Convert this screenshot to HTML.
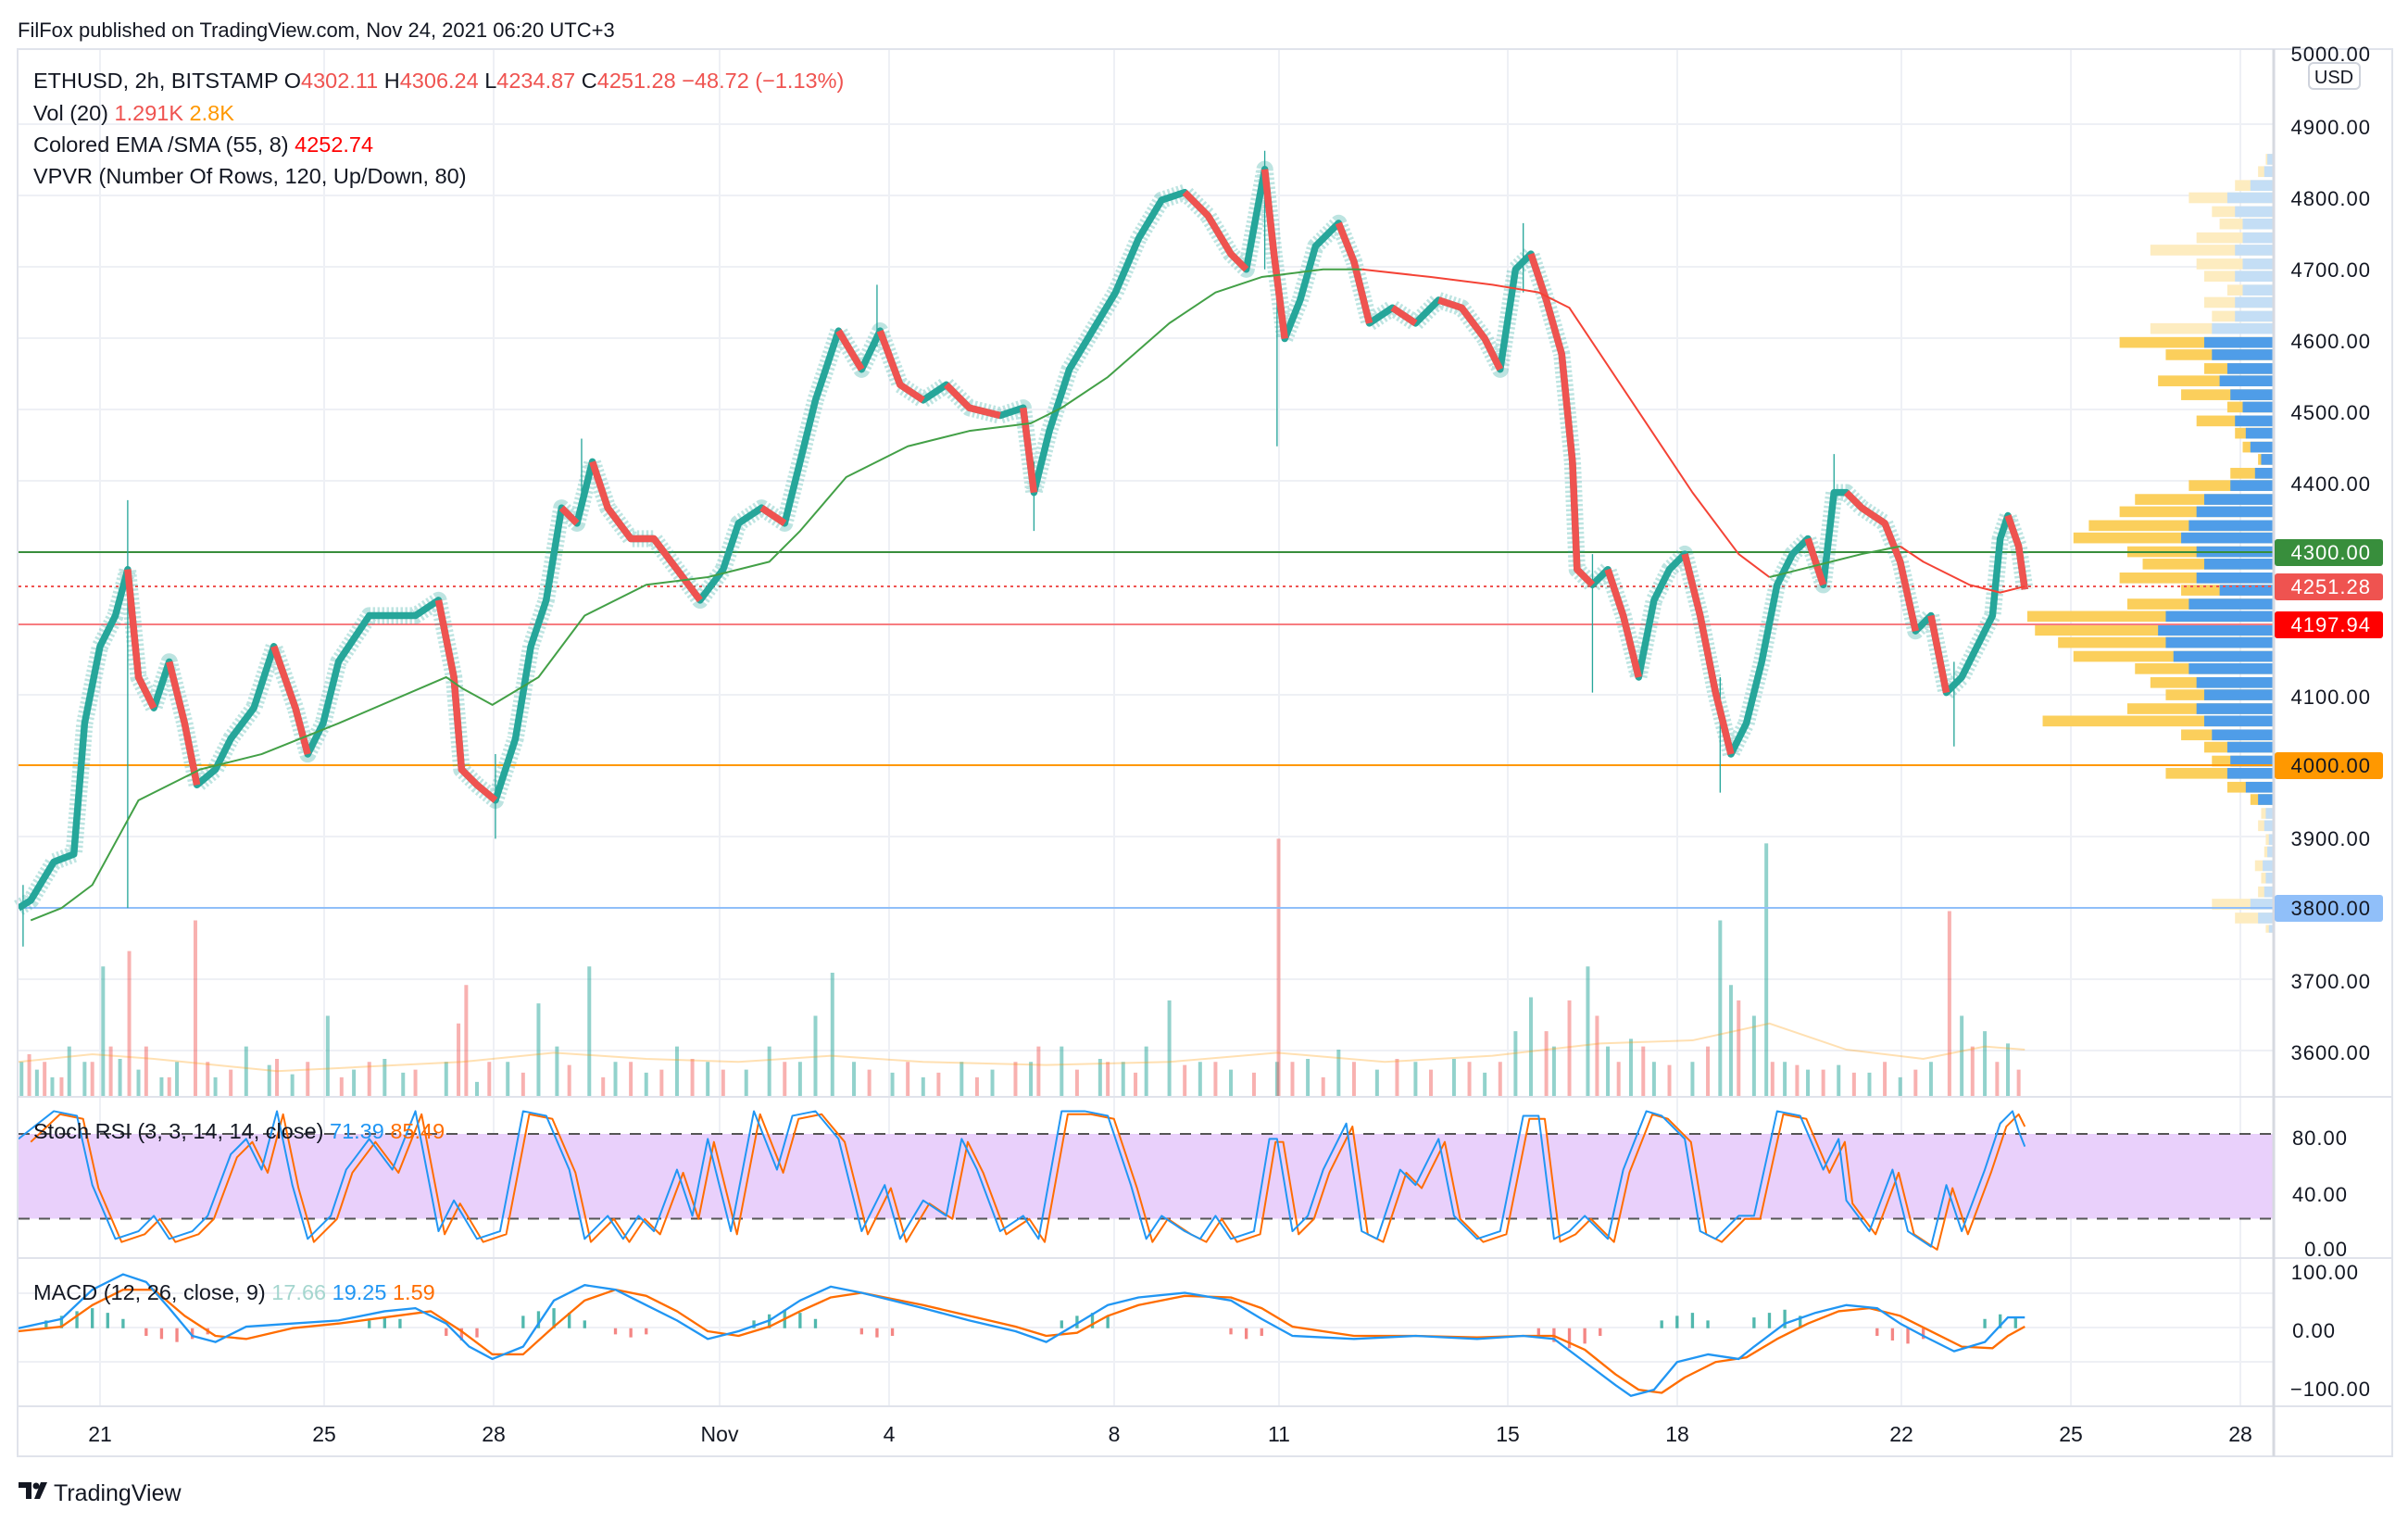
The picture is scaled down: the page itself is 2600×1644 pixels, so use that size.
<!DOCTYPE html>
<html><head><meta charset="utf-8"><style>
html,body{margin:0;padding:0;background:#fff;}
svg{display:block;font-family:"Liberation Sans",sans-serif;}
</style></head><body>
<svg width="2600" height="1644" viewBox="0 0 2600 1644" xmlns="http://www.w3.org/2000/svg">
<rect width="2600" height="1644" fill="#fff"/>
<g stroke="#eef0f5" stroke-width="2">
<line x1="20" x2="2455" y1="134" y2="134"/><line x1="20" x2="2455" y1="211" y2="211"/><line x1="20" x2="2455" y1="288" y2="288"/><line x1="20" x2="2455" y1="365" y2="365"/><line x1="20" x2="2455" y1="442" y2="442"/><line x1="20" x2="2455" y1="519" y2="519"/><line x1="20" x2="2455" y1="750" y2="750"/><line x1="20" x2="2455" y1="903" y2="903"/><line x1="20" x2="2455" y1="1057" y2="1057"/><line x1="20" x2="2455" y1="1134" y2="1134"/>
<line x1="20" x2="2455" y1="1285" y2="1285"/><line x1="20" x2="2455" y1="1396" y2="1396"/><line x1="20" x2="2455" y1="1433" y2="1433"/><line x1="20" x2="2455" y1="1470" y2="1470"/>
<line x1="108" x2="108" y1="54" y2="1518"/><line x1="350" x2="350" y1="54" y2="1518"/><line x1="533" x2="533" y1="54" y2="1518"/><line x1="777" x2="777" y1="54" y2="1518"/><line x1="960" x2="960" y1="54" y2="1518"/><line x1="1203" x2="1203" y1="54" y2="1518"/><line x1="1381" x2="1381" y1="54" y2="1518"/><line x1="1628" x2="1628" y1="54" y2="1518"/><line x1="1811" x2="1811" y1="54" y2="1518"/><line x1="2053" x2="2053" y1="54" y2="1518"/><line x1="2236" x2="2236" y1="54" y2="1518"/><line x1="2419" x2="2419" y1="54" y2="1518"/>
</g>
<rect x="20" y="1224" width="2435" height="91.5" fill="#e9d0fb"/>
<line x1="20" x2="2455" y1="1224" y2="1224" stroke="#555" stroke-width="2" stroke-dasharray="12,10"/>
<line x1="20" x2="2455" y1="1315.5" y2="1315.5" stroke="#555" stroke-width="2" stroke-dasharray="12,10"/>

<g transform="scale(1.6613)">
<g>
<rect x="1472.6" y="100" width="5" height="7" fill="#fdecc0"/><rect x="1473.6" y="100" width="4" height="7" fill="#c4def5"/>
<rect x="1467.6" y="108" width="10" height="7" fill="#fdecc0"/><rect x="1471.6" y="108" width="6" height="7" fill="#c4def5"/>
<rect x="1452.6" y="117" width="25" height="7" fill="#fdecc0"/><rect x="1462.6" y="117" width="15" height="7" fill="#c4def5"/>
<rect x="1422.6" y="125" width="55" height="7" fill="#fdecc0"/><rect x="1447.6" y="125" width="30" height="7" fill="#c4def5"/>
<rect x="1437.6" y="134" width="40" height="7" fill="#fdecc0"/><rect x="1452.6" y="134" width="25" height="7" fill="#c4def5"/>
<rect x="1442.6" y="142" width="35" height="7" fill="#fdecc0"/><rect x="1457.6" y="142" width="20" height="7" fill="#c4def5"/>
<rect x="1427.6" y="151" width="50" height="7" fill="#fdecc0"/><rect x="1457.6" y="151" width="20" height="7" fill="#c4def5"/>
<rect x="1397.6" y="159" width="80" height="7" fill="#fdecc0"/><rect x="1452.6" y="159" width="25" height="7" fill="#c4def5"/>
<rect x="1427.6" y="168" width="50" height="7" fill="#fdecc0"/><rect x="1457.6" y="168" width="20" height="7" fill="#c4def5"/>
<rect x="1432.6" y="176" width="45" height="7" fill="#fdecc0"/><rect x="1452.6" y="176" width="25" height="7" fill="#c4def5"/>
<rect x="1447.6" y="185" width="30" height="7" fill="#fdecc0"/><rect x="1457.6" y="185" width="20" height="7" fill="#c4def5"/>
<rect x="1432.6" y="193" width="45" height="7" fill="#fdecc0"/><rect x="1452.6" y="193" width="25" height="7" fill="#c4def5"/>
<rect x="1437.6" y="202" width="40" height="7" fill="#fdecc0"/><rect x="1452.6" y="202" width="25" height="7" fill="#c4def5"/>
<rect x="1397.6" y="210" width="80" height="7" fill="#fdecc0"/><rect x="1437.6" y="210" width="40" height="7" fill="#c4def5"/>
<rect x="1377.6" y="219" width="100" height="7" fill="#fbcf5c"/><rect x="1432.6" y="219" width="45" height="7" fill="#4f9de8"/>
<rect x="1407.6" y="227" width="70" height="7" fill="#fbcf5c"/><rect x="1437.6" y="227" width="40" height="7" fill="#4f9de8"/>
<rect x="1432.6" y="236" width="45" height="7" fill="#fbcf5c"/><rect x="1447.6" y="236" width="30" height="7" fill="#4f9de8"/>
<rect x="1402.6" y="244" width="75" height="7" fill="#fbcf5c"/><rect x="1442.6" y="244" width="35" height="7" fill="#4f9de8"/>
<rect x="1417.6" y="253" width="60" height="7" fill="#fbcf5c"/><rect x="1449.6" y="253" width="28" height="7" fill="#4f9de8"/>
<rect x="1447.6" y="261" width="30" height="7" fill="#fbcf5c"/><rect x="1457.6" y="261" width="20" height="7" fill="#4f9de8"/>
<rect x="1427.6" y="270" width="50" height="7" fill="#fbcf5c"/><rect x="1452.6" y="270" width="25" height="7" fill="#4f9de8"/>
<rect x="1452.6" y="278" width="25" height="7" fill="#fbcf5c"/><rect x="1459.6" y="278" width="18" height="7" fill="#4f9de8"/>
<rect x="1457.6" y="287" width="20" height="7" fill="#fbcf5c"/><rect x="1462.6" y="287" width="15" height="7" fill="#4f9de8"/>
<rect x="1467.6" y="295" width="10" height="7" fill="#fbcf5c"/><rect x="1469.6" y="295" width="8" height="7" fill="#4f9de8"/>
<rect x="1449.6" y="304" width="28" height="7" fill="#fbcf5c"/><rect x="1465.6" y="304" width="12" height="7" fill="#4f9de8"/>
<rect x="1422.6" y="312" width="55" height="7" fill="#fbcf5c"/><rect x="1449.6" y="312" width="28" height="7" fill="#4f9de8"/>
<rect x="1387.6" y="321" width="90" height="7" fill="#fbcf5c"/><rect x="1432.6" y="321" width="45" height="7" fill="#4f9de8"/>
<rect x="1377.6" y="329" width="100" height="7" fill="#fbcf5c"/><rect x="1427.6" y="329" width="50" height="7" fill="#4f9de8"/>
<rect x="1357.6" y="338" width="120" height="7" fill="#fbcf5c"/><rect x="1422.6" y="338" width="55" height="7" fill="#4f9de8"/>
<rect x="1347.6" y="346" width="130" height="7" fill="#fbcf5c"/><rect x="1417.6" y="346" width="60" height="7" fill="#4f9de8"/>
<rect x="1382.6" y="355" width="95" height="7" fill="#fbcf5c"/><rect x="1427.6" y="355" width="50" height="7" fill="#4f9de8"/>
<rect x="1392.6" y="363" width="85" height="7" fill="#fbcf5c"/><rect x="1432.6" y="363" width="45" height="7" fill="#4f9de8"/>
<rect x="1377.6" y="372" width="100" height="7" fill="#fbcf5c"/><rect x="1427.6" y="372" width="50" height="7" fill="#4f9de8"/>
<rect x="1417.6" y="380" width="60" height="7" fill="#fbcf5c"/><rect x="1442.6" y="380" width="35" height="7" fill="#4f9de8"/>
<rect x="1382.6" y="389" width="95" height="7" fill="#fbcf5c"/><rect x="1422.6" y="389" width="55" height="7" fill="#4f9de8"/>
<rect x="1317.6" y="397" width="160" height="7" fill="#fbcf5c"/><rect x="1407.6" y="397" width="70" height="7" fill="#4f9de8"/>
<rect x="1322.6" y="406" width="155" height="7" fill="#fbcf5c"/><rect x="1402.6" y="406" width="75" height="7" fill="#4f9de8"/>
<rect x="1337.6" y="414" width="140" height="7" fill="#fbcf5c"/><rect x="1407.6" y="414" width="70" height="7" fill="#4f9de8"/>
<rect x="1347.6" y="423" width="130" height="7" fill="#fbcf5c"/><rect x="1412.6" y="423" width="65" height="7" fill="#4f9de8"/>
<rect x="1387.6" y="431" width="90" height="7" fill="#fbcf5c"/><rect x="1422.6" y="431" width="55" height="7" fill="#4f9de8"/>
<rect x="1397.6" y="440" width="80" height="7" fill="#fbcf5c"/><rect x="1427.6" y="440" width="50" height="7" fill="#4f9de8"/>
<rect x="1407.6" y="448" width="70" height="7" fill="#fbcf5c"/><rect x="1432.6" y="448" width="45" height="7" fill="#4f9de8"/>
<rect x="1382.6" y="457" width="95" height="7" fill="#fbcf5c"/><rect x="1427.6" y="457" width="50" height="7" fill="#4f9de8"/>
<rect x="1327.6" y="465" width="150" height="7" fill="#fbcf5c"/><rect x="1432.6" y="465" width="45" height="7" fill="#4f9de8"/>
<rect x="1417.6" y="474" width="60" height="7" fill="#fbcf5c"/><rect x="1437.6" y="474" width="40" height="7" fill="#4f9de8"/>
<rect x="1432.6" y="482" width="45" height="7" fill="#fbcf5c"/><rect x="1447.6" y="482" width="30" height="7" fill="#4f9de8"/>
<rect x="1437.6" y="491" width="40" height="7" fill="#fbcf5c"/><rect x="1449.6" y="491" width="28" height="7" fill="#4f9de8"/>
<rect x="1407.6" y="499" width="70" height="7" fill="#fbcf5c"/><rect x="1447.6" y="499" width="30" height="7" fill="#4f9de8"/>
<rect x="1447.6" y="508" width="30" height="7" fill="#fbcf5c"/><rect x="1459.6" y="508" width="18" height="7" fill="#4f9de8"/>
<rect x="1462.6" y="516" width="15" height="7" fill="#fbcf5c"/><rect x="1467.6" y="516" width="10" height="7" fill="#4f9de8"/>
<rect x="1469.6" y="525" width="8" height="7" fill="#fdecc0"/><rect x="1472.6" y="525" width="5" height="7" fill="#c4def5"/>
<rect x="1467.6" y="533" width="10" height="7" fill="#fdecc0"/><rect x="1471.6" y="533" width="6" height="7" fill="#c4def5"/>
<rect x="1472.6" y="542" width="5" height="7" fill="#fdecc0"/><rect x="1474.6" y="542" width="3" height="7" fill="#c4def5"/>
<rect x="1471.6" y="550" width="6" height="7" fill="#fdecc0"/><rect x="1473.6" y="550" width="4" height="7" fill="#c4def5"/>
<rect x="1465.6" y="559" width="12" height="7" fill="#fdecc0"/><rect x="1470.6" y="559" width="7" height="7" fill="#c4def5"/>
<rect x="1469.6" y="567" width="8" height="7" fill="#fdecc0"/><rect x="1472.6" y="567" width="5" height="7" fill="#c4def5"/>
<rect x="1467.6" y="576" width="10" height="7" fill="#fdecc0"/><rect x="1471.6" y="576" width="6" height="7" fill="#c4def5"/>
<rect x="1437.6" y="584" width="40" height="7" fill="#fdecc0"/><rect x="1462.6" y="584" width="15" height="7" fill="#c4def5"/>
<rect x="1452.6" y="593" width="25" height="7" fill="#fdecc0"/><rect x="1467.6" y="593" width="10" height="7" fill="#c4def5"/>
<rect x="1472.6" y="601" width="5" height="5" fill="#fdecc0"/><rect x="1474.6" y="601" width="3" height="5" fill="#c4def5"/>
</g>
<path fill="none" stroke="rgba(38,166,154,0.5)" stroke-width="2.4" d="M14 713V690M24 713V695M34 713V700M45 713V680M55 713V690M67 713V628M78 713V688M90 713V695M105 713V700M115 713V690M140 713V700M160 713V680M175 713V692M190 713V698M213 713V660M230 713V695M250 713V688M262 713V697M290 713V690M310 713V703M330 713V690M350 713V652M362 713V680M383 713V628M400 713V690M420 713V697M440 713V680M460 713V690M485 713V695M500 713V680M520 713V690M530 713V660M541 713V632M555 713V690M580 713V697M600 713V700M625 713V690M645 713V695M670 713V690M690 713V680M715 713V688M730 713V690M745 713V680M760 713V650M780 713V690M800 713V695M830 713V690M850 713V688M870 713V682M895 713V695M920 713V690M945 713V688M965 713V697M985 713V670M995 713V648M1010 713V680M1032 713V628M1045 713V680M1060 713V675M1075 713V690M1100 713V690M1118 713V598M1125 713V640M1140 713V660M1148 713V548M1160 713V690M1175 713V695M1195 713V692M1215 713V697M1235 713V700M1255 713V690M1275 713V660M1290 713V670M1305 713V678"/>
<path fill="none" stroke="rgba(239,83,80,0.45)" stroke-width="2.4" d="M19 713V685M29 713V690M40 713V700M60 713V690M72 713V680M84 713V618M95 713V680M110 713V700M127 713V598M135 713V690M150 713V695M180 713V688M200 713V690M222 713V700M240 713V690M270 713V695M298 713V665M303 713V640M318 713V690M340 713V697M370 713V692M392 713V700M410 713V690M430 713V695M450 713V688M470 713V695M510 713V690M565 713V695M590 713V690M610 713V697M635 713V700M660 713V690M675 713V680M700 713V695M720 713V690M738 713V697M770 713V692M790 713V690M815 713V697M831 713V545M840 713V690M860 713V700M880 713V690M908 713V688M930 713V695M955 713V690M975 713V690M1005 713V670M1020 713V650M1038 713V660M1052 713V690M1068 713V680M1085 713V692M1110 713V680M1130 713V650M1152 713V690M1168 713V692M1185 713V695M1205 713V697M1225 713V690M1245 713V695M1267 713V592M1282 713V680M1298 713V690M1312 713V695"/>
<path fill="none" stroke="rgba(255,152,0,0.3)" stroke-width="1.2" d="M12 690L60 685L100 688L140 692L180 696L220 694L300 690L360 684L420 688L480 690L540 686L600 690L680 692L760 690L830 684L900 690L970 686L1040 678L1100 676L1150 665L1200 682L1250 688L1290 680L1316 682"/>
</g>

<g stroke-width="2">
<line x1="20" x2="2455" y1="596" y2="596" stroke="#388e3c"/>
<line x1="20" x2="2455" y1="633" y2="633" stroke="#ef5350" stroke-dasharray="3,4"/>
<line x1="20" x2="2455" y1="674" y2="674" stroke="#f77c80"/>
<line x1="20" x2="2455" y1="826" y2="826" stroke="#ff9800"/>
<line x1="20" x2="2455" y1="980" y2="980" stroke="#90bff9"/>
</g>

<g transform="scale(1.6613)" fill="none" stroke-linejoin="round">
<path stroke="#26a69a" stroke-width="0.8" d="M83 325V590M822 98V175M830 165V290M15 575V615M322 490V545M672 300V345M1118 440V515M1035 360V450M1270 430V485M1192 295V335M990 145V190M378 285V330M570 185V225"/>
<path stroke="#26a69a" stroke-width="11" stroke-dasharray="1.5,1.5" opacity="0.3" d="M12 590L20 585L35 560L48 555L55 470L65 420L75 400L83 370L90 440L100 460L110 430L120 470L128 510L140 500L150 480L165 460L178 420L192 460L200 490L210 470L220 430L240 400L255 400L270 400L285 390L295 440L300 500L310 510L322 520L335 480L345 420L355 390L365 330L375 340L385 300L395 330L410 350L425 350L440 370L455 390L470 370L480 340L495 330L510 340L520 300L530 260L545 215L560 240L572 215L585 250L600 260L615 250L630 265L650 270L665 265L672 320L682 280L695 240L710 215L725 190L740 155L755 130L770 125L785 140L800 165L810 175L822 110L828 165L835 220L845 195L855 160L870 145L880 170L890 210L905 200L920 210L935 195L950 200L965 220L975 240L985 175L995 165L1005 195L1015 230L1022 300L1025 370L1035 380L1045 370L1055 400L1065 440L1075 390L1085 370L1095 360L1105 400L1115 450L1125 490L1135 470L1145 430L1155 380L1165 360L1175 350L1185 380L1192 320L1200 320L1210 330L1225 340L1235 365L1245 410L1255 400L1265 450L1275 440L1285 420L1295 400L1300 350L1305 335L1312 355L1316 383"/>
<path stroke="#26a69a" stroke-width="4.5" d="M12 590L20 585L35 560L48 555L55 470L65 420L75 400L83 370L90 440L100 460L110 430L120 470L128 510L140 500L150 480L165 460L178 420L192 460L200 490L210 470L220 430L240 400L255 400L270 400L285 390L295 440L300 500L310 510L322 520L335 480L345 420L355 390L365 330L375 340L385 300L395 330L410 350L425 350L440 370L455 390L470 370L480 340L495 330L510 340L520 300L530 260L545 215L560 240L572 215L585 250L600 260L615 250L630 265L650 270L665 265L672 320L682 280L695 240L710 215L725 190L740 155L755 130L770 125L785 140L800 165L810 175L822 110L828 165L835 220L845 195L855 160L870 145L880 170L890 210L905 200L920 210L935 195L950 200L965 220L975 240L985 175L995 165L1005 195L1015 230L1022 300L1025 370L1035 380L1045 370L1055 400L1065 440L1075 390L1085 370L1095 360L1105 400L1115 450L1125 490L1135 470L1145 430L1155 380L1165 360L1175 350L1185 380L1192 320L1200 320L1210 330L1225 340L1235 365L1245 410L1255 400L1265 450L1275 440L1285 420L1295 400L1300 350L1305 335L1312 355L1316 383"/>
<path stroke="#ef5350" stroke-width="4.5" d="M83 370L90 440L100 460M110 430L120 470L128 510M178 420L192 460L200 490M285 390L295 440L300 500L310 510L322 520M365 330L375 340M385 300L395 330L410 350L425 350L440 370L455 390M495 330L510 340M545 215L560 240M572 215L585 250L600 260M615 250L630 265L650 270M665 265L672 320M770 125L785 140L800 165L810 175M822 110L828 165L835 220M870 145L880 170L890 210M905 200L920 210M935 195L950 200L965 220L975 240M995 165L1005 195L1015 230L1022 300L1025 370L1035 380M1045 370L1055 400L1065 440M1095 360L1105 400L1115 450L1125 490M1175 350L1185 380M1200 320L1210 330L1225 340L1235 365L1245 410M1255 400L1265 450M1305 335L1312 355L1316 383"/>
<path stroke="#43a047" stroke-width="1.2" d="M20 598L40 590L60 575L90 520L130 500L170 490L220 470L290 440L300 447L320 458L350 440L380 400L420 380L460 375L500 365L520 345L550 310L590 290L630 280L670 275L690 265L720 245L760 210L790 190L820 180L860 175L885 175"/>
<path stroke="#f44336" stroke-width="1.2" d="M885 175L930 180L970 185L1000 190L1020 200L1060 260L1100 320L1130 360L1150 375"/>
<path stroke="#43a047" stroke-width="1.2" d="M1150 375L1170 370L1190 365L1210 360L1235 355"/>
<path stroke="#f44336" stroke-width="1.2" d="M1235 355L1250 365L1280 380L1300 385L1316 381"/>
<path stroke="#ff6d00" stroke-width="1.2" transform="translate(4,2)" d="M16 740L35 722L50 725L60 770L75 805L90 800L100 790L110 805L125 800L135 790L150 750L160 740L170 760L180 722L190 770L200 805L215 790L225 760L240 740L255 760L270 722L285 800L295 780L310 805L325 800L340 722L355 725L370 760L380 805L395 790L405 805L415 790L425 800L440 760L450 790L460 740L475 800L490 722L505 760L515 725L530 722L545 740L560 800L575 770L585 805L600 780L615 790L625 740L635 760L650 800L665 790L675 805L690 722L705 722L720 725L735 770L745 805L755 790L770 800L780 805L790 790L800 805L815 800L825 740L830 740L840 800L850 790L860 760L875 730L885 800L895 805L910 760L920 770L935 740L945 790L960 805L975 800L990 725L1000 725L1010 805L1020 800L1030 790L1045 805L1055 760L1070 722L1080 725L1095 740L1105 800L1115 805L1130 790L1140 790L1155 722L1170 725L1185 760L1195 740L1200 780L1215 800L1230 760L1240 800L1255 810L1265 770L1275 800L1290 760L1300 730L1308 722L1312 730"/>
<path stroke="#2196f3" stroke-width="1.2" d="M12 740L35 722L50 725L60 770L75 805L90 800L100 790L110 805L125 800L135 790L150 750L160 740L170 760L180 722L190 770L200 805L215 790L225 760L240 740L255 760L270 722L285 800L295 780L310 805L325 800L340 722L355 725L370 760L380 805L395 790L405 805L415 790L425 800L440 760L450 790L460 740L475 800L490 722L505 760L515 725L530 722L545 740L560 800L575 770L585 805L600 780L615 790L625 740L635 760L650 800L665 790L675 805L690 722L705 722L720 725L735 770L745 805L755 790L770 800L780 805L790 790L800 805L815 800L825 740L830 740L840 800L850 790L860 760L875 730L885 800L895 805L910 760L920 770L935 740L945 790L960 805L975 800L990 725L1000 725L1010 805L1020 800L1030 790L1045 805L1055 760L1070 722L1080 725L1095 740L1105 800L1115 805L1130 790L1140 790L1155 722L1170 725L1185 760L1195 740L1200 780L1215 800L1230 760L1240 800L1255 810L1265 770L1275 800L1290 760L1300 730L1308 722L1312 735L1316 745"/>
<path stroke="#26a69a" stroke-width="2" opacity="0.8" d="M30 863V858M40 863V855M50 863V852M60 863V850M70 863V853M80 863V857M240 863V858M250 863V856M260 863V857M340 863V855M350 863V852M360 863V850M370 863V853M380 863V858M490 863V858M500 863V854M510 863V851M520 863V853M530 863V857M690 863V858M700 863V855M710 863V853M720 863V855M1080 863V858M1090 863V855M1100 863V853M1110 863V858M1140 863V856M1150 863V853M1160 863V851M1170 863V855M1290 863V857M1300 863V854M1310 863V856"/>
<path stroke="#ef5350" stroke-width="2" opacity="0.7" d="M95 863V868M105 863V870M115 863V872M125 863V870M135 863V867M290 863V868M300 863V871M310 863V869M400 863V867M410 863V869M420 863V867M560 863V867M570 863V869M580 863V868M800 863V867M810 863V870M820 863V868M1000 863V868M1010 863V872M1020 863V876M1030 863V873M1040 863V868M1220 863V868M1230 863V871M1240 863V873M1250 863V870"/>
<path stroke="#ff6d00" stroke-width="1.4" d="M12 865L40 862L60 848L80 838L100 838L120 855L140 868L160 870L190 863L220 860L250 856L280 852L300 865L320 880L340 880L360 862L380 845L400 838L420 842L440 852L460 865L480 868L500 862L520 852L540 843L560 840L580 844L600 848L630 855L660 862L680 868L700 866L720 855L740 848L770 842L800 843L820 850L840 862L880 868L920 868L960 869L990 868L1010 868L1030 877L1050 893L1065 903L1080 905L1095 895L1115 885L1135 882L1155 870L1175 860L1195 852L1215 850L1235 855L1255 865L1275 875L1295 876L1305 868L1316 862"/>
<path stroke="#2196f3" stroke-width="1.4" d="M12 863L40 857L60 838L80 828L95 833L110 850L125 868L140 872L160 862L190 860L220 858L250 852L270 850L290 860L305 875L320 883L340 875L360 845L380 835L400 838L420 848L440 858L460 870L480 865L500 858L520 845L540 836L560 840L580 845L600 850L630 858L660 865L680 872L700 860L720 848L740 843L770 840L800 845L820 857L840 868L880 870L920 868L960 870L990 868L1010 870L1030 885L1050 900L1060 907L1075 903L1090 885L1110 880L1130 883L1140 875L1160 860L1180 853L1200 848L1220 850L1235 860L1250 868L1270 878L1290 872L1305 856L1316 856"/>
</g>

<g stroke="#e0e3eb" stroke-width="2" fill="none">
<rect x="19" y="53" width="2564" height="1519"/>
<line x1="19" x2="2583" y1="1184" y2="1184"/>
<line x1="19" x2="2583" y1="1358" y2="1358"/>
<line x1="19" x2="2583" y1="1518" y2="1518"/>
</g>
<line x1="2455" x2="2455" y1="53" y2="1572" stroke="#d6d9e0" stroke-width="3"/>
<g font-size="22" fill="#131722" text-anchor="end" letter-spacing="1">
<text x="2560" y="66">5000.00</text>
<text x="2560" y="145">4900.00</text>
<text x="2560" y="222">4800.00</text>
<text x="2560" y="299">4700.00</text>
<text x="2560" y="376">4600.00</text>
<text x="2560" y="453">4500.00</text>
<text x="2560" y="530">4400.00</text>
<text x="2560" y="760">4100.00</text>
<text x="2560" y="913">3900.00</text>
<text x="2560" y="1067">3700.00</text>
<text x="2560" y="1144">3600.00</text>
<text x="2535" y="1236">80.00</text>
<text x="2535" y="1297">40.00</text>
<text x="2535" y="1356">0.00</text>
<text x="2547" y="1381">100.00</text>
<text x="2522" y="1444">0.00</text>
<text x="2560" y="1507">−100.00</text>
</g>
<rect x="2493" y="68" width="55" height="28" rx="5" fill="#fff" stroke="#cfd3dc" stroke-width="2"/>
<text x="2520" y="90" font-size="20" fill="#131722" text-anchor="middle">USD</text>
<g font-size="22" fill="#fff" text-anchor="end" letter-spacing="1">
<rect x="2456" y="582" width="117" height="29" rx="3" fill="#388e3c"/><text x="2560" y="604">4300.00</text>
<rect x="2456" y="619" width="117" height="29" rx="3" fill="#ef5350"/><text x="2560" y="641">4251.28</text>
<rect x="2456" y="660" width="117" height="29" rx="3" fill="#ff0000"/><text x="2560" y="682">4197.94</text>
<rect x="2456" y="812" width="117" height="29" rx="3" fill="#ff9800"/><text x="2560" y="834" fill="#131722">4000.00</text>
<rect x="2456" y="966" width="117" height="29" rx="3" fill="#90bff9"/><text x="2560" y="988" fill="#131722">3800.00</text>
</g>
<g font-size="23" fill="#131722" text-anchor="middle">
<text x="108" y="1556">21</text><text x="350" y="1556">25</text><text x="533" y="1556">28</text>
<text x="777" y="1556">Nov</text><text x="960" y="1556">4</text><text x="1203" y="1556">8</text>
<text x="1381" y="1556">11</text><text x="1628" y="1556">15</text><text x="1811" y="1556">18</text>
<text x="2053" y="1556">22</text><text x="2236" y="1556">25</text><text x="2419" y="1556">28</text>
</g>
<text x="19" y="40" font-size="22" fill="#131722">FilFox published on TradingView.com, Nov 24, 2021 06:20 UTC+3</text>
<g font-size="23.5" fill="#131722">
<text x="36" y="95">ETHUSD, 2h, BITSTAMP  O<tspan fill="#ef5350">4302.11</tspan>  H<tspan fill="#ef5350">4306.24</tspan>  L<tspan fill="#ef5350">4234.87</tspan>  C<tspan fill="#ef5350">4251.28</tspan>  <tspan fill="#ef5350">−48.72 (−1.13%)</tspan></text>
<text x="36" y="130">Vol (20)  <tspan fill="#ef5350">1.291K</tspan>  <tspan fill="#ff9800">2.8K</tspan></text>
<text x="36" y="164">Colored EMA /SMA (55, 8)  <tspan fill="#ff0000">4252.74</tspan></text>
<text x="36" y="198">VPVR (Number Of Rows, 120, Up/Down, 80)</text>
<text x="36" y="1229">Stoch RSI (3, 3, 14, 14, close)  <tspan fill="#2196f3">71.39</tspan>  <tspan fill="#ff6d00">85.49</tspan></text>
<text x="36" y="1403">MACD (12, 26, close, 9)  <tspan fill="#a5d6cf">17.66</tspan>  <tspan fill="#2196f3">19.25</tspan>  <tspan fill="#ff6d00">1.59</tspan></text>
</g>
<g transform="translate(20,1596)">
<path d="M0 4h14v18h-6v-12h-8z M24 4h7l-8 18h-6z" fill="#131722"/>
<circle cx="19" cy="8" r="3.5" fill="#131722"/>
</g>
<text x="58" y="1620" font-size="25" fill="#131722">TradingView</text>
</svg>
</body></html>
